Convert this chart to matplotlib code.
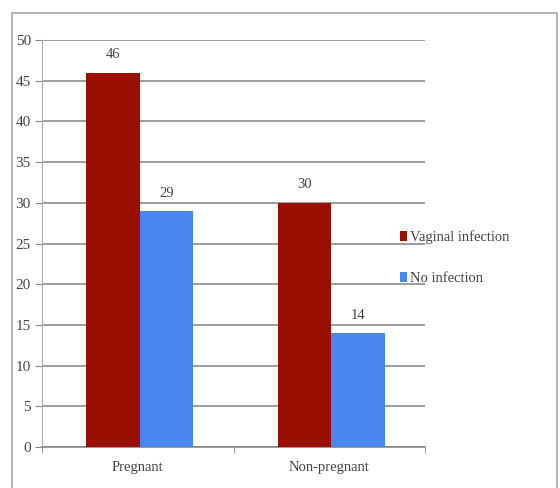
import matplotlib.pyplot as plt
from matplotlib.patches import Rectangle
import numpy as np

categories = ["Pregnant", "Non-pregnant"]
series_names = ["Vaginal infection", "No infection"]
vaginal_infection = [46, 30]
no_infection = [29, 14]
y_ticks = [0, 5, 10, 15, 20, 25, 30, 35, 40, 45, 50]

plt.rcParams["font.family"] = ["Liberation Serif", "DejaVu Serif"]

fig = plt.figure(figsize=(5.6, 4.88), dpi=100)
ax = fig.add_axes([0.075, 0.084, 0.684, 0.834])

# outer chart frame
fig.patches.append(Rectangle((0.021, -0.05), 0.974, 1.023, transform=fig.transFigure,
                             fill=False, edgecolor="#a8a8a8", linewidth=1.2))

x = np.arange(len(categories))
w = 0.28
colors = ["#9a0f00", "#4a86f2"]
for i, (vals, name) in enumerate(zip([vaginal_infection, no_infection], series_names)):
    pos = x + (i - 0.5) * w + 0.01
    ax.bar(pos, vals, w, color=colors[i], label=name, zorder=3)
    for p, v in zip(pos, vals):
        ax.text(p, v + 2.2, str(v), ha="center", va="center", fontsize=10.5, color="#444444")

ax.set_xlim(-0.5, 1.5)
ax.set_ylim(0, 50)
ax.set_yticks(y_ticks)
ax.set_xticks(x)
ax.set_xticklabels(categories)
ax.set_xticks([-0.5, 0.5, 1.5], minor=True)
ax.tick_params(axis="x", which="major", length=0, pad=10, labelsize=10.5, labelcolor="#444444")
ax.tick_params(axis="x", which="minor", length=4, color="#888888", direction="out")
ax.tick_params(axis="y", length=5, color="#888888", labelsize=11, labelcolor="#444444", pad=3)
ax.grid(axis="y", color="#8c8c8c", linewidth=1.2, zorder=0)
for s in ["top", "right"]:
    ax.spines[s].set_visible(False)
ax.spines["left"].set_color("#aaaaaa")
ax.spines["bottom"].set_color("#888888")
ax.spines["bottom"].set_linewidth(1.2)

fig.legend(loc="center left", bbox_to_anchor=(0.69, 0.472), frameon=False,
           handlelength=0.5, handleheight=0.7, handletextpad=0.2, labelspacing=1.9,
           fontsize=10.5, labelcolor="#444444")

fig.savefig("out.png", dpi=100)
